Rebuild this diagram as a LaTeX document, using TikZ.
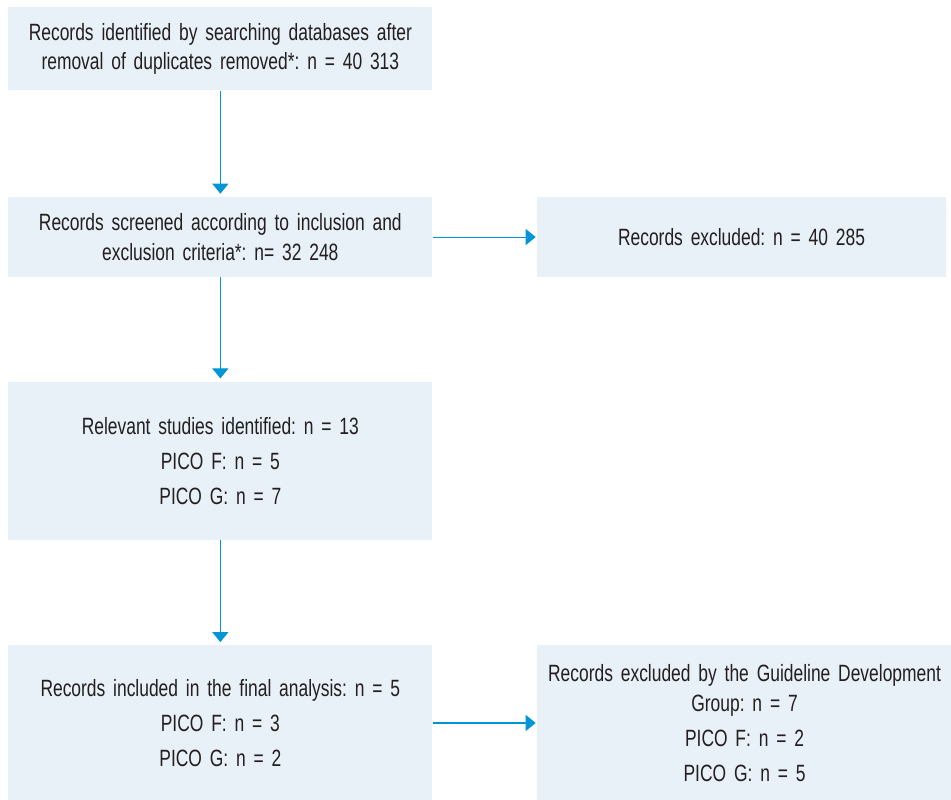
\documentclass[tikz,border=0pt]{standalone}
\usepackage{fontspec}
\setmainfont{Liberation Sans}[FakeStretch=0.74,WordSpace=0.6]
\frenchspacing
\usetikzlibrary{arrows.meta,positioning}
\definecolor{ink}{HTML}{231F20}
\definecolor{flow}{HTML}{0096D6}
\definecolor{soft}{HTML}{E8F0F8}
\tikzset{
  box/.style={fill=soft,draw=none,inner sep=0pt,align=center,text=ink,font=\fontsize{13.4}{17}\selectfont,text width=8.48cm,minimum width=8.48cm},
  boxr/.style={box,text width=8.3cm,minimum width=8.3cm},
  ar/.style={-{Triangle[width=3.2mm,length=2mm]},draw=flow,line width=.6pt},
}

\begin{document}
\begin{tikzpicture}
  \useasboundingbox (0,0) rectangle (19.02,-15.98);
  \node[box,anchor=north west,minimum height=1.66cm] (ident) at (0.16,-0.14) {Records identified by searching databases after\\removal of duplicates removed*: n = 40 313};
  \node[box,below=2.12cm of ident,minimum height=1.6cm] (screen) {Records screened according to inclusion and\\exclusion criteria*: n= 32 248};
  \node[boxr,right=2.08cm of screen,minimum height=1.6cm,text width=8.18cm,minimum width=8.18cm] (excl) {Records excluded: n = 40 285};
  \node[box,below=2.08cm of screen,minimum height=3.16cm] (relev) {Relevant studies identified: n = 13\\[3pt]PICO F: n = 5\\[3pt]PICO G: n = 7};
  \node[box,below=2.1cm of relev,minimum height=3.1cm] (final) {Records included in the final analysis: n = 5\\[3pt]PICO F: n = 3\\[3pt]PICO G: n = 2};
  \node[boxr,right=2.08cm of final,minimum height=3.1cm] (gdg) {Records excluded by the Guideline Development\\Group: n = 7\\[3pt]PICO F: n = 2\\[3pt]PICO G: n = 5};

  \draw[ar] (ident) -- ([yshift=.06cm]screen.north);
  \draw[ar] (screen) -- ([yshift=.06cm]relev.north);
  \draw[ar] (relev) -- ([yshift=.06cm]final.north);
  \draw[ar] (screen) -- ([xshift=-.02cm]excl.west);
  \draw[ar] (final) -- ([xshift=-.02cm]gdg.west);
\end{tikzpicture}
\end{document}
